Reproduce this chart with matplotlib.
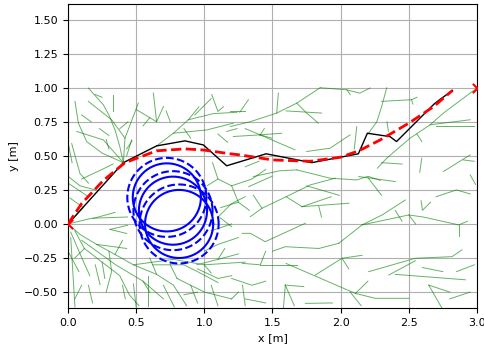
import matplotlib
matplotlib.use("Agg")
import matplotlib.pyplot as plt
import numpy as np

# ---------------- data ----------------
# RRT tree branches (polylines, data coords)
tree_branches = [
    # upper left
    [(0.149,0.998),(0.259,0.875),(0.30,0.80),(0.345,0.69),(0.38,0.568),(0.406,0.45)],
    [(0.051,0.90),(0.076,0.74),(0.137,0.605),(0.25,0.52),(0.406,0.45)],
    [(0.064,0.679),(0.259,0.617),(0.406,0.45)],
    [(0.149,0.90),(0.32,0.765),(0.418,0.63),(0.406,0.45)],
    [(0.516,0.887),(0.418,0.63)],
    [(0.332,0.95),(0.332,0.83)],
    [(0.467,0.617),(0.43,0.50)],
    [(0.0,0.60),(0.03,0.45)],
    [(0.027,0.59),(0.088,0.37),(0.15,0.30)],
    [(0.0,0.35),(0.088,0.28),(0.20,0.25)],
    [(0.10,0.33),(0.25,0.40),(0.33,0.44)],
    [(0.20,0.95),(0.25,0.93)],
    [(0.30,0.55),(0.28,0.62)],
    [(0.43,0.55),(0.47,0.61)],
    [(0.38,0.70),(0.44,0.75)],
    [(0.23,0.70),(0.30,0.65)],
    [(0.10,0.80),(0.17,0.75)],
    # upper middle
    [(0.504,0.838),(0.65,0.75),(0.626,0.961)],
    [(0.70,0.862),(0.65,0.75)],
    [(0.55,0.72),(0.60,0.78)],
    [(0.65,0.573),(0.773,0.666),(0.883,0.765),(0.96,0.86)],
    [(0.883,0.765),(1.066,0.81),(1.24,0.82)],
    [(0.773,0.666),(1.017,0.69),(1.213,0.74)],
    [(0.75,0.75),(0.72,0.83)],
    [(0.85,0.70),(0.90,0.63)],
    [(0.93,0.80),(1.05,0.92)],
    [(1.054,0.95),(1.10,0.826),(1.14,0.86)],
    [(1.164,0.679),(1.24,0.70)],
    [(1.10,0.66),(1.17,0.60)],
    [(1.19,0.826),(1.30,0.826)],
    [(1.323,0.912),(1.26,0.82)],
    # upper right
    [(1.85,1.0),(2.045,0.985),(2.14,0.96),(2.216,0.998)],
    [(2.045,0.985),(2.07,0.95)],
    [(1.85,1.0),(1.678,0.887),(1.531,0.814),(1.335,0.75),(1.19,0.715)],
    [(1.543,0.961),(1.531,0.814)],
    [(1.678,0.887),(1.751,0.814),(1.836,0.74)],
    [(1.60,0.83),(1.86,0.814)],
    [(1.409,0.654),(1.568,0.666)],
    [(1.409,0.654),(1.213,0.642)],
    [(1.409,0.654),(1.44,0.70)],
    [(1.409,0.654),(1.494,0.63)],
    [(1.409,0.654),(1.665,0.544)],
    [(1.409,0.654),(1.30,0.70)],
    [(1.751,0.532),(1.922,0.556),(2.069,0.654)],
    [(2.10,0.55),(2.118,0.715)],
    [(2.338,1.0),(2.301,0.862),(2.265,0.75),(2.20,0.66)],
    [(2.30,0.90),(2.52,0.912),(2.56,0.93)],
    [(2.52,0.912),(2.53,0.88)],
    [(2.34,0.75),(2.35,0.68)],
    [(3.0,0.998),(2.754,0.814),(2.656,0.728),(2.51,0.63),(2.338,0.483),(2.27,0.41)],
    [(2.656,0.728),(2.95,0.765)],
    [(2.70,0.72),(2.98,0.72)],
    [(2.56,0.66),(2.595,0.605)],
    [(2.95,0.507),(2.754,0.385)],
    [(2.90,0.47),(2.98,0.46)],
    [(2.595,0.483),(2.58,0.38)],
    # middle band
    [(1.06,0.45),(1.10,0.33),(1.20,0.28),(1.35,0.33),(1.45,0.40)],
    [(1.20,0.28),(1.25,0.16),(1.33,0.10)],
    [(1.10,0.33),(1.02,0.28)],
    [(1.25,0.16),(1.12,0.12)],
    [(1.30,0.42),(1.40,0.46)],
    [(1.678,0.397),(1.922,0.336),(2.118,0.323),(2.20,0.35),(2.29,0.32)],
    [(1.36,0.348),(1.55,0.39),(1.678,0.397)],
    [(2.133,0.348),(2.401,0.311)],
    [(2.20,0.34),(2.30,0.21)],
    [(1.326,0.274),(1.496,0.35)],
    [(1.961,0.336),(1.778,0.287),(1.60,0.20),(1.423,0.115),(1.338,0.054)],
    [(1.75,0.28),(1.99,0.21)],
    [(1.423,0.115),(1.36,0.21)],
    [(1.717,0.127),(2.06,0.152)],
    [(1.60,0.20),(1.717,0.127)],
    [(1.84,0.127),(1.86,0.05)],
    [(1.717,0.127),(1.93,0.20)],
    [(2.95,0.36),(2.99,0.29)],
    [(2.30,0.45),(2.45,0.44)],
    [(2.70,0.20),(2.85,0.25),(2.95,0.22)],
    [(1.277,-0.069),(1.338,-0.069),(1.447,-0.13),(1.741,0.005)],
    [(1.986,-0.142),(2.157,-0.007),(2.304,0.066),(2.475,0.176)],
    [(2.157,-0.007),(2.50,0.066),(2.61,0.05),(2.866,-0.007),(2.93,0.02)],
    [(2.59,0.17),(2.60,0.10),(2.66,0.16)],
    [(2.866,-0.007),(2.866,-0.09)],
    [(2.50,0.066),(2.55,0.00)],
    [(2.40,0.10),(2.45,0.02)],
    [(1.10,0.05),(1.20,0.15),(1.30,0.20)],
    [(1.115,0.046),(1.20,-0.02)],
    [(1.05,-0.05),(1.20,0.00)],
    # lower right
    [(1.986,-0.142),(1.84,-0.18),(1.594,-0.167),(1.50,-0.20)],
    [(1.277,-0.289),(1.411,-0.30),(1.45,-0.20)],
    [(1.411,-0.30),(1.68,-0.30)],
    [(1.60,-0.29),(2.108,-0.51),(2.255,-0.546),(2.50,-0.546)],
    [(2.07,-0.50),(2.15,-0.60)],
    [(2.108,-0.51),(2.20,-0.42)],
    [(1.814,-0.375),(2.01,-0.252),(2.157,-0.23)],
    [(2.01,-0.252),(2.06,-0.33)],
    [(2.206,-0.35),(2.548,-0.252),(2.817,-0.24),(2.89,-0.19)],
    [(2.353,-0.375),(2.548,-0.27)],
    [(2.40,-0.37),(2.915,-0.41)],
    [(2.60,-0.32),(2.75,-0.35)],
    [(2.646,-0.449),(2.80,-0.50)],
    [(2.646,-0.449),(2.744,-0.62)],
    [(2.80,-0.55),(2.95,-0.50)],
    [(2.85,-0.35),(2.98,-0.30)],
    [(1.594,-0.449),(1.58,-0.62)],
    [(1.594,-0.449),(1.73,-0.46)],
    [(1.594,-0.449),(1.66,-0.60)],
    [(1.741,-0.583),(1.94,-0.58)],
    # lower left
    [(0.0,0.0),(0.088,-0.077),(0.21,-0.15),(0.345,-0.224),(0.48,-0.30),(0.65,-0.37),(0.773,-0.449),(0.87,-0.60)],
    [(0.1,-0.12),(0.35,-0.30),(0.55,-0.42),(0.70,-0.55)],
    [(0.05,-0.05),(0.12,-0.18),(0.25,-0.28),(0.38,-0.38),(0.45,-0.52),(0.52,-0.60)],
    [(0.12,-0.18),(0.05,-0.25)],
    [(0.25,-0.28),(0.27,-0.40)],
    [(0.345,-0.224),(0.40,-0.12)],
    [(0.55,-0.42),(0.60,-0.50)],
    [(0.65,-0.37),(0.60,-0.25)],
    [(0.0,-0.20),(0.08,-0.35)],
    [(0.10,-0.45),(0.05,-0.55)],
    [(0.02,-0.06),(0.112,-0.273),(0.16,-0.38)],
    [(0.02,-0.10),(0.051,-0.61)],
    [(0.235,-0.445),(0.20,-0.30)],
    [(0.30,-0.20),(0.32,-0.35),(0.28,-0.50)],
    [(0.15,-0.45),(0.18,-0.58)],
    [(0.40,-0.45),(0.42,-0.55)],
    [(0.48,-0.44),(0.50,-0.61)],
    [(0.59,-0.38),(0.59,-0.60)],
    [(0.70,-0.45),(0.78,-0.61)],
    [(0.21,-0.15),(0.43,-0.18)],
    [(0.308,-0.04),(0.437,-0.01)],
    [(0.308,-0.04),(0.43,-0.07)],
    [(0.0,0.0),(0.174,0.042),(0.437,0.051)],
    [(0.183,0.04),(0.345,0.085)],
    [(0.015,0.19),(0.112,0.12),(0.0,0.0)],
    [(0.0,0.30),(0.15,0.20)],
    # lower middle
    [(0.48,-0.30),(0.773,-0.26),(1.0,-0.30),(1.30,-0.28)],
    [(0.62,-0.30),(0.85,-0.30),(0.95,-0.35),(1.10,-0.43)],
    [(0.944,-0.30),(1.10,-0.26),(1.25,-0.22)],
    [(1.0,-0.20),(1.10,-0.15),(1.25,-0.10)],
    [(0.95,-0.33),(1.10,-0.40),(1.20,-0.38)],
    [(0.80,-0.40),(1.00,-0.50),(1.20,-0.55)],
    [(0.75,-0.30),(0.80,-0.40)],
    [(1.00,-0.30),(1.05,-0.36)],
    [(1.10,-0.26),(1.15,-0.18)],
    [(1.20,-0.55),(1.25,-0.50)],
    [(0.85,-0.52),(0.95,-0.50)],
    [(0.90,-0.45),(0.95,-0.58)],
    [(1.05,-0.45),(1.10,-0.60)],
    [(1.20,-0.40),(1.35,-0.45),(1.45,-0.42)],
    [(1.28,-0.45),(1.30,-0.60)],
    [(1.30,-0.55),(1.45,-0.58)],
]

# RRT path (black)
path_x = [0.0, 0.406, 0.65, 0.858, 0.993, 1.164, 1.453, 1.788, 2.13, 2.196, 2.362, 2.41, 2.685, 2.73, 2.82]
path_y = [0.0, 0.45, 0.573, 0.61, 0.58, 0.427, 0.515, 0.45, 0.515, 0.666, 0.641, 0.605, 0.88, 0.915, 0.98]

# smoothed path (red dashed)
smooth_x = [0.0, 0.10, 0.26, 0.418, 0.65, 0.858, 0.993, 1.19, 1.26, 1.50, 1.775, 2.0, 2.14, 2.29, 2.5, 2.68, 2.82]
smooth_y = [0.0, 0.15, 0.32, 0.45, 0.537, 0.551, 0.543, 0.515, 0.507, 0.47, 0.46, 0.49, 0.54, 0.617, 0.74, 0.86, 0.98]

# obstacle (moving circle) positions
obs_cx = [0.725, 0.77, 0.815]
obs_cy = [0.195, 0.0975, 0.0]
obs_r = 0.25
obs_margin_r = 0.29

marker_x = [0.0, 3.0]   # start, goal
marker_y = [0.0, 1.0]

xticks = [0.0, 0.5, 1.0, 1.5, 2.0, 2.5, 3.0]
yticks = [-0.5, -0.25, 0.0, 0.25, 0.5, 0.75, 1.0, 1.25, 1.5]

# ---------------- plot ----------------
fig = plt.figure(figsize=(4.84, 3.51), dpi=100)
ax = fig.add_axes([0.1405, 0.1225, 0.845, 0.867])

for br in tree_branches:
    xs, ys = zip(*br)
    ax.plot(xs, ys, color="green", lw=0.7, alpha=0.6, zorder=2)

th = np.linspace(0, 2*np.pi, 200)
for cx, cy in zip(obs_cx, obs_cy):
    ax.plot(cx + obs_r*np.cos(th), cy + obs_r*np.sin(th), color="blue", lw=1.5, zorder=3)
    ax.plot(cx + obs_margin_r*np.cos(th), cy + obs_margin_r*np.sin(th), color="blue", lw=1.5, ls="--", zorder=3)

ax.plot(path_x, path_y, color="black", lw=1.0, zorder=4)
ax.plot(smooth_x, smooth_y, color="red", lw=2.0, ls="--", zorder=5)
ax.scatter(marker_x, marker_y, marker="x", s=45, c="red", linewidths=1.5, zorder=6, clip_on=True)

ax.set_xlim(0, 3)
ax.set_ylim(-0.617, 1.617)
ax.set_xticks(xticks)
ax.set_yticks(yticks)
ax.tick_params(labelsize=8)
ax.grid(True, color="#b0b0b0", lw=0.8)
ax.set_axisbelow(True)
ax.set_xlabel("x [m]", fontsize=8)
ax.set_ylabel("y [m]", fontsize=8)

fig.savefig("out.png", dpi=100)
